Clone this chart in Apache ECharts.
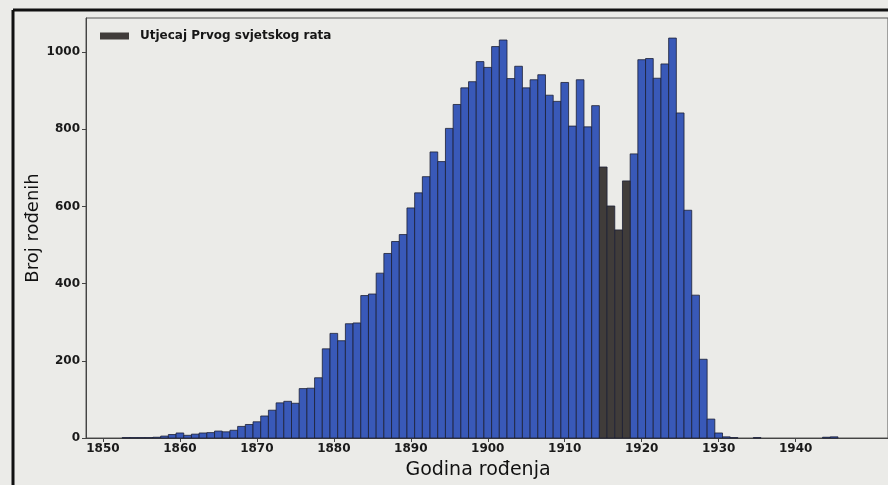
<!DOCTYPE html>
<html><head><meta charset="utf-8">
<script src="https://cdn.jsdelivr.net/npm/echarts@6/dist/echarts.min.js"></script>
<style>html,body{margin:0;padding:0;background:#ebebe8;} #c{width:888px;height:485px;}</style>
</head><body><div id="c"></div>
<script>
const birthYears = [
  1853,1854,1855,1856,1857,1858,1859,
  1860,1861,1862,1863,1864,1865,1866,1867,1868,1869,
  1870,1871,1872,1873,1874,1875,1876,1877,1878,1879,
  1880,1881,1882,1883,1884,1885,1886,1887,1888,1889,
  1890,1891,1892,1893,1894,1895,1896,1897,1898,1899,
  1900,1901,1902,1903,1904,1905,1906,1907,1908,1909,
  1910,1911,1912,1913,1914,1915,1916,1917,1918,1919,
  1920,1921,1922,1923,1924,1925,1926,1927,1928,1929,
  1930,1931,1932,1935,1944,1945
];
const birthCounts = [
  1,1,1,1,2,5,9,
  13,7,10,13,14,18,16,20,30,35,
  42,57,72,91,95,90,128,129,156,231,
  271,252,296,298,369,373,427,478,509,527,
  596,635,677,741,716,802,864,907,923,975,
  960,1014,1031,931,963,907,928,941,888,872,
  921,808,928,806,861,702,601,539,666,736,
  980,983,932,969,1036,842,590,370,204,49,
  13,3,1,1,2,3
];
const warYears = [1915,1916,1917,1918];
const xTicks = [1850,1860,1870,1880,1890,1900,1910,1920,1930,1940];
const yTicks = [0,200,400,600,800,1000];
const legendLabel = 'Utjecaj Prvog svjetskog rata';
const peaceLabel = 'Rođeni';
const xTitle = 'Godina rođenja';
const yTitle = 'Broj rođenih';

const peaceData = [], warData = [];
birthYears.forEach((y, i) => {
  (warYears.includes(y) ? warData : peaceData).push([y, birthCounts[i]]);
});

const BLUE = '#3959b8', DARK = '#403c3a', EDGE = '#1c2035';
function makeRender(fill) {
  return function (params, api) {
    const yr = api.value(0), n = api.value(1);
    const p0 = api.coord([yr - 0.5, n]);
    const p1 = api.coord([yr + 0.5, 0]);
    return {
      type: 'rect',
      shape: { x: p0[0], y: p0[1], width: p1[0] - p0[0], height: p1[1] - p0[1] },
      style: { fill: fill, stroke: EDGE, lineWidth: 0.8 }
    };
  };
}
const plain = v => String(v);

const chart = echarts.init(document.getElementById('c'), null, { renderer: 'canvas' });
chart.setOption({
  backgroundColor: '#ebebe8',
  animation: false,
  grid: { left: 86, top: 18, bottom: 38, right: -16, show: true, borderColor: '#555', borderWidth: 1, backgroundColor: 'transparent' },
  legend: {
    data: [legendLabel],
    left: 95, top: 25,
    icon: 'rect', itemWidth: 29, itemHeight: 7,
    textStyle: { fontFamily: 'DejaVu Sans', fontSize: 12, fontWeight: 'bold', color: '#161616', padding: [0,0,0,6] }
  },
  xAxis: {
    type: 'value', min: 1847.8, max: 1952,
    name: xTitle, nameLocation: 'middle', nameGap: 23,
    nameTextStyle: { fontFamily: 'DejaVu Sans', fontSize: 19, color: '#111', padding: [0, 18, 0, 0] },
    splitLine: { show: false },
    axisLine: { lineStyle: { color: '#444', width: 1 } },
    axisTick: { customValues: xTicks, length: 4, lineStyle: { color: '#444' } },
    axisLabel: { customValues: xTicks, formatter: plain, margin: 5, fontFamily: 'DejaVu Sans', fontSize: 12, fontWeight: 'bold', color: '#1a1a1a' }
  },
  yAxis: {
    type: 'value', min: 0, max: 1088,
    name: yTitle, nameLocation: 'middle', nameGap: 44, nameMoveOverlap: false,
    nameTextStyle: { fontFamily: 'DejaVu Sans', fontSize: 18, color: '#111' },
    splitLine: { show: false },
    axisLine: { show: true, lineStyle: { color: '#444', width: 1 } },
    axisTick: { show: true, customValues: yTicks, length: 4, lineStyle: { color: '#444' } },
    axisLabel: { customValues: yTicks, formatter: plain, margin: 6, fontFamily: 'DejaVu Sans', fontSize: 12, fontWeight: 'bold', color: '#1a1a1a' }
  },
  graphic: [
    { type: 'line', shape: { x1: 13, y1: 10, x2: 888, y2: 10 }, style: { stroke: '#111', lineWidth: 3 } },
    { type: 'line', shape: { x1: 13, y1: 10, x2: 13, y2: 485 }, style: { stroke: '#111', lineWidth: 3 } }
  ],
  series: [
    { name: peaceLabel, type: 'custom', renderItem: makeRender(BLUE), itemStyle: { color: BLUE }, encode: { x: 0, y: 1 }, data: peaceData },
    { name: legendLabel, type: 'custom', renderItem: makeRender(DARK), itemStyle: { color: DARK }, encode: { x: 0, y: 1 }, data: warData }
  ]
});
</script></body></html>
